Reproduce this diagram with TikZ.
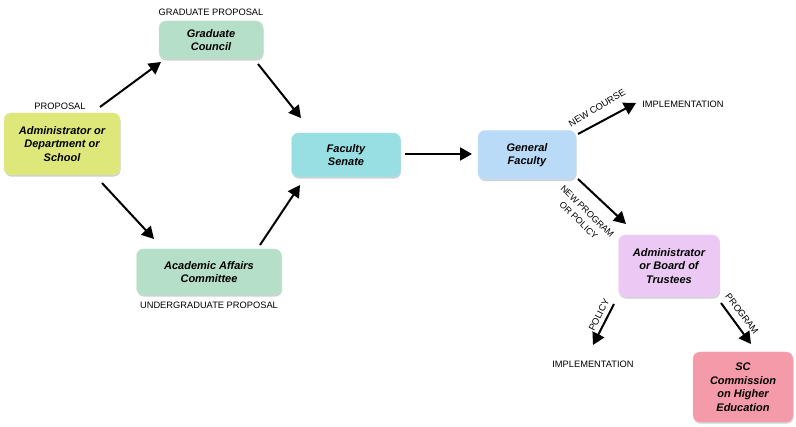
\documentclass[tikz,border=0pt]{standalone}
\usepackage{fontspec}
\setmainfont{Liberation Sans}
\usetikzlibrary{arrows.meta,shadows}
\definecolor{cYel}{HTML}{DDE77A}
\definecolor{cGrn}{HTML}{B5DFC8}
\definecolor{cCyan}{HTML}{97DFE3}
\definecolor{cBlue}{HTML}{B9DBF8}
\definecolor{cPur}{HTML}{ECC9F5}
\definecolor{cPink}{HTML}{F59AA9}
\tikzset{
  box/.style={rounded corners=7pt, minimum height=#1, align=center, inner sep=1pt,
    font=\fontsize{11}{13.5}\selectfont\bfseries\itshape,
    drop shadow={shadow xshift=0.6pt, shadow yshift=-1.6pt, fill=black!30, opacity=0.6}},
  lab/.style={font=\fontsize{9.3}{10.5}\selectfont, inner sep=0pt},
  arr/.style={line width=2pt, -{Triangle[length=12pt,width=13pt]}}
}
\begin{document}
\begin{tikzpicture}[x=1pt,y=-1pt]
\path[use as bounding box, fill=white] (0,0) rectangle (796,427);
% boxes
\node[box=62pt, minimum width=116pt, fill=cYel, draw=cYel!80!white] (adm) at (62,144) {Administrator or\\Department or\\School};
\node[box=38pt, minimum width=104pt, fill=cGrn, draw=cGrn!80!white] (grad) at (211,40) {Graduate\\Council};
\node[box=46pt, minimum width=145pt, fill=cGrn, draw=cGrn!80!white] (acad) at (209,272) {Academic Affairs\\Committee};
\node[box=44pt, minimum width=109pt, fill=cCyan, draw=cCyan!80!white] (sen) at (346,155) {Faculty\\Senate};
\node[box=49pt, minimum width=98pt, fill=cBlue, draw=cBlue!80!white] (gen) at (527,155) {General\\Faculty};
\node[box=62pt, minimum width=101pt, fill=cPur, draw=cPur!80!white] (brd) at (669,266) {Administrator\\or Board of\\Trustees};
\node[box=70pt, minimum width=100pt, fill=cPink, draw=cPink!80!white] (sc) at (743,387) {SC\\Commission\\on Higher\\Education};
% labels
\node[lab] (lgp) at (211,12) {GRADUATE PROPOSAL};
\node[lab] (lp) at (60,106) {PROPOSAL};
\node[lab] (lup) at (209,305) {UNDERGRADUATE PROPOSAL};
\node[lab] (imp1) at (683,104) {IMPLEMENTATION};
\node[lab] (imp2) at (593,364) {IMPLEMENTATION};
\node[lab, rotate=31] (lnc) at (597,108) {NEW COURSE};
\node[lab, rotate=-44, align=center, font=\fontsize{9}{12.5}\selectfont] (lnp) at (583,216) {NEW PROGRAM\\OR POLICY};
\node[lab, rotate=63] (lpol) at (599,315) {POLICY};
\node[lab, rotate=-53] (lprog) at (742,314) {PROGRAM};
% arrow end points
\coordinate (a1s) at (100,107); \coordinate (a1e) at (161,62);
\coordinate (a2s) at (102,183); \coordinate (a2e) at (154,239);
\coordinate (a3s) at (258,64);  \coordinate (a3e) at (301,118);
\coordinate (a4s) at (260,245); \coordinate (a4e) at (300,185);
\coordinate (a5s) at (405,154); \coordinate (a5e) at (472,154);
\coordinate (a6s) at (578,134); \coordinate (a6e) at (636,103);
\coordinate (a7s) at (578,179); \coordinate (a7e) at (626,224);
\coordinate (a8s) at (614,304); \coordinate (a8e) at (593,345);
\coordinate (a9s) at (721,303); \coordinate (a9e) at (751,344);
\draw[arr] (a1s) -- (a1e);
\draw[arr] (a2s) -- (a2e);
\draw[arr] (a3s) -- (a3e);
\draw[arr] (a4s) -- (a4e);
\draw[arr] (a5s) -- (a5e);
\draw[arr] (a6s) -- (a6e);
\draw[arr] (a7s) -- (a7e);
\draw[arr] (a8s) -- (a8e);
\draw[arr] (a9s) -- (a9e);
\end{tikzpicture}
\end{document}
